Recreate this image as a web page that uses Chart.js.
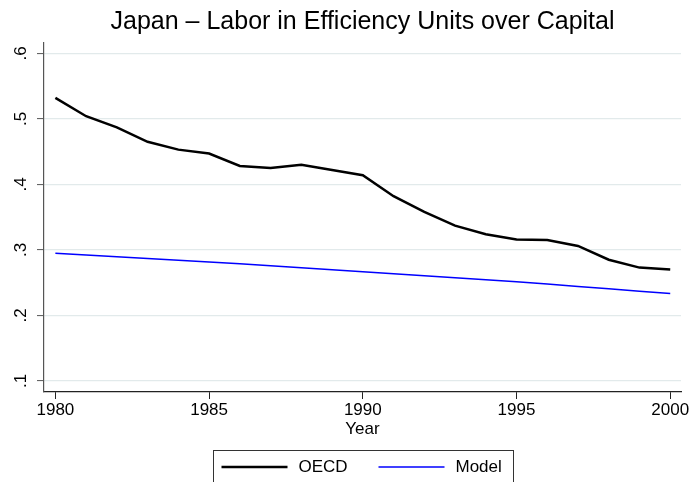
<!DOCTYPE html>
<html>
<head>
<meta charset="utf-8">
<script src="https://cdn.jsdelivr.net/npm/chart.js@4.4.1/dist/chart.umd.min.js"></script>
<style>
    html, body { margin: 0; padding: 0; background: #fff; }
</style>
</head>
<body>
<canvas id="chart" width="692" height="482"></canvas>
<script>
// values
const years = [1980, 1981, 1982, 1983, 1984, 1985, 1986, 1987, 1988, 1989, 1990,
               1991, 1992, 1993, 1994, 1995, 1996, 1997, 1998, 1999, 2000];
const oecd = [0.532, 0.504, 0.487, 0.465, 0.453, 0.447, 0.428, 0.425, 0.430, 0.422, 0.414,
              0.382, 0.358, 0.337, 0.324, 0.316, 0.315, 0.306, 0.285, 0.273, 0.270];
const model = [0.2950, 0.2924, 0.2897, 0.2870, 0.2843, 0.2815, 0.2787, 0.2758, 0.2729, 0.2699, 0.2668,
               0.2638, 0.2607, 0.2576, 0.2545, 0.2514, 0.2479, 0.2443, 0.2407, 0.2370, 0.2334];
const seriesNames = ['OECD', 'Model'];
const xTickValues = [1980, 1985, 1990, 1995, 2000];
const yTickValues = [0.1, 0.2, 0.3, 0.4, 0.5, 0.6];
const yTickLabels = ['.1', '.2', '.3', '.4', '.5', '.6'];

const FONT = '"Liberation Sans", Arial, Helvetica, sans-serif';
Chart.defaults.font.family = FONT;
Chart.defaults.color = '#000';

function toPoints(values) {
    return years.map((yr, i) => ({ x: yr, y: values[i] }));
}

// boxed legend under the axis title, like the Stata one
const boxLegend = {
    id: 'boxLegend',
    afterDraw(chart) {
        const ctx = chart.ctx;
        const area = chart.chartArea;
        const cx = (area.left + area.right) / 2;
        const left = Math.round(cx - 150) + 0.5;
        const top = 450.5;
        const midY = 467;
        const itemX = [8, 165];

        ctx.save();
        ctx.strokeStyle = '#333';
        ctx.lineWidth = 1;
        ctx.strokeRect(left, top, 300, 45);

        ctx.font = '17px ' + FONT;
        ctx.textBaseline = 'middle';
        ctx.textAlign = 'left';
        ctx.fillStyle = '#000';
        chart.data.datasets.forEach((ds, i) => {
            const x = left + itemX[i];
            ctx.strokeStyle = ds.borderColor;
            ctx.lineWidth = ds.borderWidth;
            ctx.beginPath();
            ctx.moveTo(x, midY);
            ctx.lineTo(x + 66, midY);
            ctx.stroke();
            ctx.fillText(ds.label, x + 77, midY);
        });
        ctx.restore();
    }
};

const ctx = document.getElementById('chart').getContext('2d');
const chart = new Chart(ctx, {
    type: 'line',
    data: {
        datasets: [{
            label: seriesNames[0],
            data: toPoints(oecd),
            borderColor: '#000000',
            borderWidth: 2.5,
            pointRadius: 0,
            tension: 0,
            fill: false
        }, {
            label: seriesNames[1],
            data: toPoints(model),
            borderColor: '#0000ff',
            borderWidth: 1.5,
            pointRadius: 0,
            tension: 0,
            fill: false
        }]
    },
    options: {
        responsive: false,
        animation: false,
        layout: { padding: { top: 0, left: 0, right: 11, bottom: 0 } },
        plugins: {
            legend: { display: false },
            tooltip: { enabled: false },
            title: {
                display: true,
                text: 'Japan \u2013 Labor in Efficiency Units over Capital',
                color: '#000',
                fullSize: false,
                font: { size: 25, weight: 'normal' },
                padding: { top: 7.3, bottom: 5.7 }
            }
        },
        scales: {
            x: {
                type: 'linear',
                min: 1979.63,
                max: 2000.35,
                afterBuildTicks: s => { s.ticks = xTickValues.map(v => ({ value: v })); },
                afterFit: s => { s.height = 90; },
                ticks: {
                    callback: v => String(v),
                    color: '#000',
                    font: { size: 17 },
                    padding: 1,
                    maxRotation: 0,
                    autoSkip: false
                },
                grid: { drawOnChartArea: false, tickLength: 7, tickColor: '#222', tickWidth: 1 },
                border: { color: '#222', width: 1.2 },
                title: {
                    display: true,
                    text: 'Year',
                    color: '#000',
                    font: { size: 17 },
                    padding: { top: 0, bottom: 42.8 }
                }
            },
            y: {
                type: 'linear',
                min: 0.0832,
                max: 0.6157,
                afterBuildTicks: s => { s.ticks = yTickValues.map(v => ({ value: v })); },
                afterFit: s => { s.width = 44; },
                ticks: {
                    callback: (v, i) => yTickLabels[i],
                    minRotation: 90,
                    maxRotation: 90,
                    crossAlign: 'center',
                    padding: 8.6,
                    color: '#000',
                    font: { size: 17 },
                    autoSkip: false
                },
                grid: { color: '#e2eaeb', lineWidth: 1.2, tickLength: 7, tickColor: '#555', tickWidth: 1 },
                border: { color: '#555', width: 1.2 }
            }
        }
    },
    plugins: [boxLegend]
});
</script>
</body>
</html>
